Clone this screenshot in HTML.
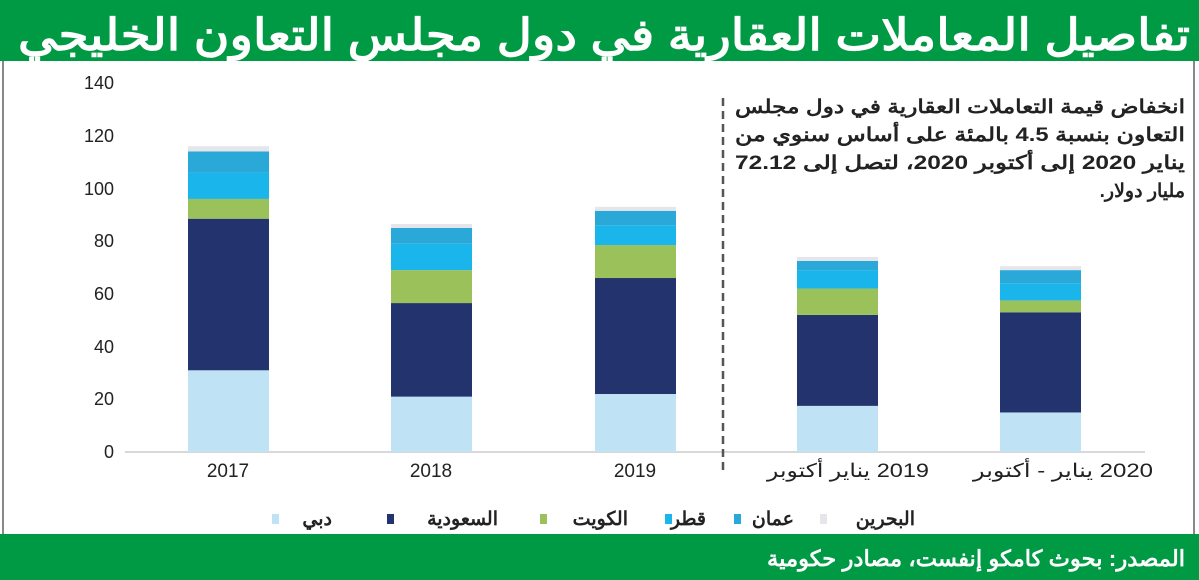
<!DOCTYPE html>
<html><head><meta charset="utf-8"><style>
body{margin:0;width:1199px;height:580px;overflow:hidden;background:#fff;font-family:"Liberation Sans","Noto Sans CJK SC",sans-serif}
.hdr{position:absolute;left:0;top:0;width:1199px;height:61px;background:#009a44}
.ftr{position:absolute;left:0;top:534px;width:1199px;height:46px;background:#009a44}
.frame{position:absolute;left:2px;top:61px;width:1193px;height:473px;border-left:2px solid #888;border-right:2px solid #888;box-sizing:border-box}
</style></head><body>
<div class="hdr"></div><div class="frame"></div><div class="ftr"></div>
<svg width="1199" height="580" style="position:absolute;left:0;top:0">
<text x="1190" y="50" text-anchor="start" fill="#fff" font-size="44" font-weight="bold" direction="rtl" textLength="1172" lengthAdjust="spacingAndGlyphs">تفاصيل المعاملات العقارية في دول مجلس التعاون الخليجي</text>
<text x="1185" y="566" text-anchor="start" fill="#fff" font-size="22" font-weight="bold" direction="rtl" textLength="418" lengthAdjust="spacingAndGlyphs">المصدر: بحوث كامكو إنفست، مصادر حكومية</text>
<g font-size="18" fill="#222" text-anchor="end">
<text x="114" y="89">140</text><text x="114" y="142">120</text><text x="114" y="195">100</text><text x="114" y="247">80</text><text x="114" y="300">60</text><text x="114" y="353">40</text><text x="114" y="405">20</text><text x="114" y="458">0</text>
</g>
<line x1="125" y1="452" x2="1145" y2="452" stroke="#ccc" stroke-width="1.5"/>
<line x1="723" y1="98" x2="723" y2="472" stroke="#555" stroke-width="2.5" stroke-dasharray="8,5"/>
<g id="bars"></g>
<g font-size="19" fill="#222" text-anchor="middle">
<text x="228" y="477">2017</text><text x="431" y="477">2018</text><text x="635" y="477">2019</text>
<text x="848" y="477" direction="rtl" textLength="162" lengthAdjust="spacingAndGlyphs">2019 يناير أكتوبر</text>
<text x="1063" y="477" direction="rtl" textLength="180" lengthAdjust="spacingAndGlyphs">2020 يناير - أكتوبر</text>
</g>
<g font-size="19" font-weight="bold" fill="#222" text-anchor="start" direction="rtl">
<text x="1185" y="113" textLength="450" lengthAdjust="spacingAndGlyphs">انخفاض قيمة التعاملات العقارية في دول مجلس</text>
<text x="1185" y="141" textLength="450" lengthAdjust="spacingAndGlyphs">التعاون بنسبة 4.5 بالمئة على أساس سنوي من</text>
<text x="1185" y="169" textLength="450" lengthAdjust="spacingAndGlyphs">يناير 2020 إلى أكتوبر 2020، لتصل إلى 72.12</text>
<text x="1185" y="197">مليار دولار.</text>
</g>
<g font-size="19" font-weight="bold" fill="#222" direction="rtl" text-anchor="start">
<rect x="272" y="514" width="7" height="10" fill="#bfe3f5"/><text x="332" y="525">دبي</text>
<rect x="387" y="514" width="7" height="10" fill="#23336e"/><text x="498" y="525">السعودية</text>
<rect x="540" y="514" width="7" height="10" fill="#9bc15a"/><text x="628" y="525">الكويت</text>
<rect x="665" y="514" width="7" height="10" fill="#1ab5ea"/><text x="706" y="525">قطر</text>
<rect x="734" y="514" width="7" height="10" fill="#2aa9d8"/><text x="794" y="525">عمان</text>
<rect x="820" y="514" width="7" height="10" fill="#e5e5ea"/><text x="915" y="525">البحرين</text>
</g>
</svg>
<script>
var cols=["#bfe3f5","#23336e","#9bc15a","#1ab5ea","#2aa9d8","#e5e5ea"];
var data=[[188,[31,88.5,96,106,114,116]],[391,[21,56.5,69,79,85,86.5]],[595,[22,66,78.5,86,91.5,93]],[797,[17.5,52,62,69,72.5,74]],[1000,[15,53,57.5,64,69,70.5]]];
var g=document.getElementById("bars"),s="";
data.forEach(function(d){var prev=0;d[1].forEach(function(v,i){var y1=452-v*2.636,y0=452-prev*2.636;s+='<rect x="'+d[0]+'" y="'+y1+'" width="81" height="'+(y0-y1)+'" fill="'+cols[i]+'"/>';prev=v;});});
g.innerHTML=s;
</script>
</body></html>
